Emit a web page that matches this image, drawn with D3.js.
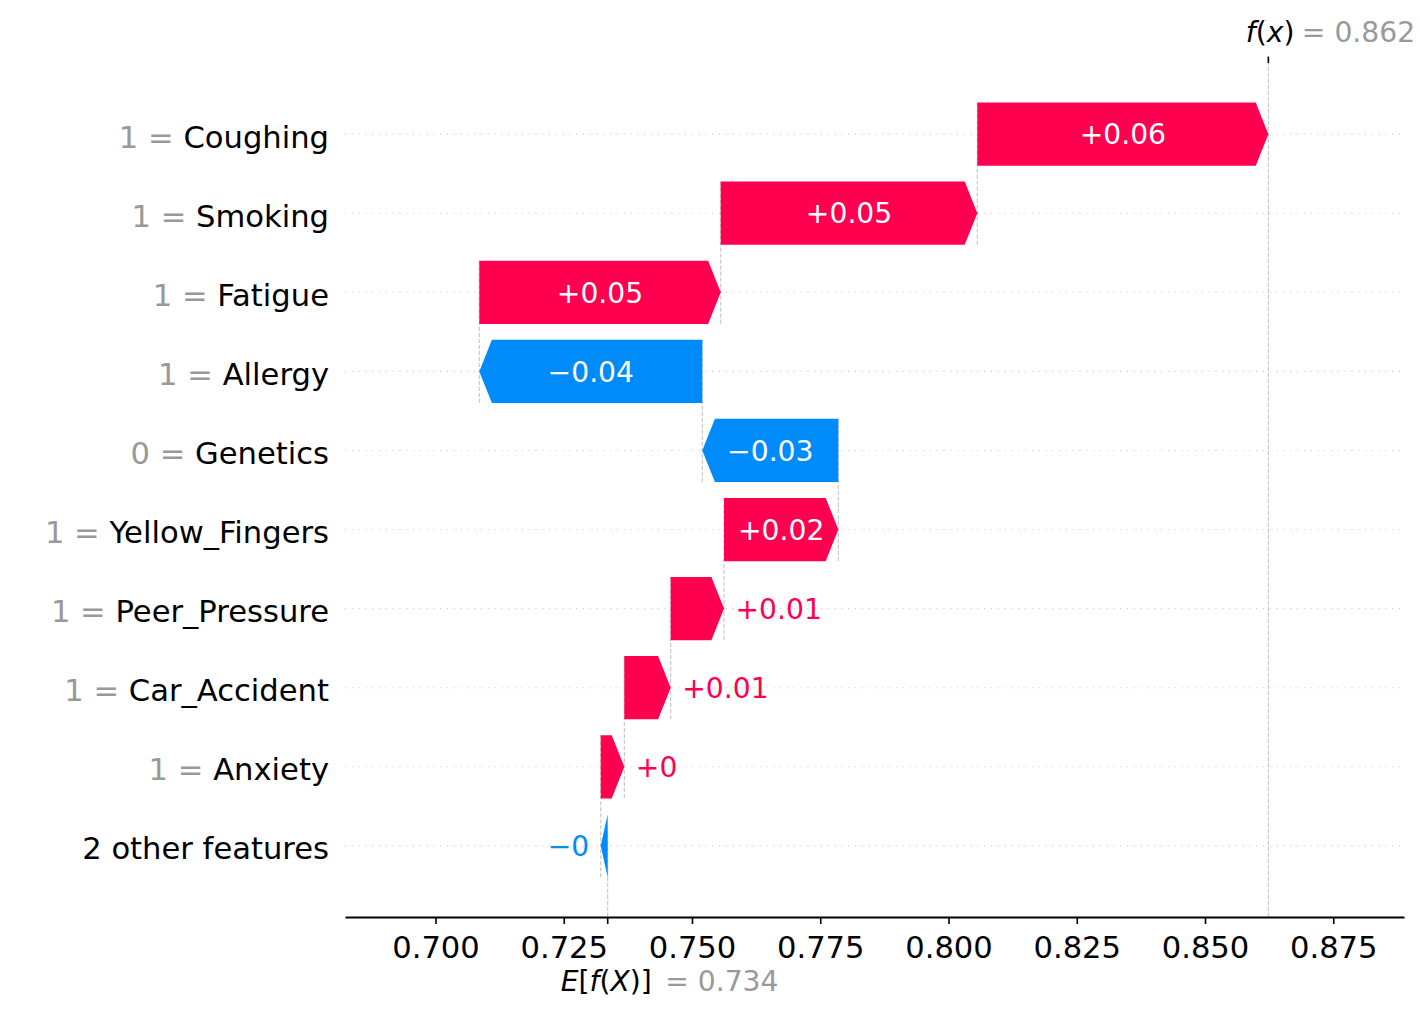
<!DOCTYPE html>
<meta charset="utf-8">
<script src="https://d3js.org/d3.v7.min.js"></script>
<style>
  body { margin: 0; background: #fff; }
  text { font-family: "DejaVu Sans", sans-serif; }
</style>
<div id="chart"></div>
<script>

// rows, top to bottom
var features = ["Coughing", "Smoking", "Fatigue", "Allergy", "Genetics", "Yellow_Fingers",
                "Peer_Pressure", "Car_Accident", "Anxiety", "2 other features"];
var featureValues = ["1", "1", "1", "1", "0", "1", "1", "1", "1", ""];
var shapValues = [0.05673, 0.05002, 0.04706, -0.04347, -0.02651, 0.02228,
                  0.01039, 0.00904, 0.00460, -0.00136];
var baseValue = 0.73357;
var xTicks = [0.700, 0.725, 0.750, 0.775, 0.800, 0.825, 0.850, 0.875];

var red = "#ff0051", blue = "#008bfb";
var n = features.length;
var fx = baseValue + d3.sum(shapValues);

var svg = d3.select("#chart").append("svg")
    .attr("width", 1420)
    .attr("height", 1028);

var x = d3.scaleLinear().domain([0.68236, 0.88879]).range([345, 1404]);
var y = d3.scaleLinear().domain([-0.9, n - 0.1]).range([917, 63]);

// shap style number format: strip trailing zeros, unicode minus
function fmt(v) {
  var s = d3.format("+.2f")(v).replace(/\.?0+$/, "");
  if (s[0] == "-" || s[0] == "\u2212") s = "\u2212" + s.slice(1);
  return s;
}

// horizontal dotted row lines
svg.append("g").selectAll("line")
  .data(d3.range(n))
  .enter().append("line")
    .attr("x1", x.range()[0]).attr("x2", x.range()[1])
    .attr("y1", function(r) { return y(r); })
    .attr("y2", function(r) { return y(r); })
    .style("stroke", "#cccccc")
    .style("stroke-width", 1.1)
    .style("stroke-dasharray", "1.1,5.7");

// where each bar starts (walk down from f(x))
var rows = [];
var loc = fx;
features.forEach(function(f, i) {
  loc -= shapValues[i];
  rows.push({ name: f, fval: featureValues[i], v: shapValues[i], start: loc, r: n - 1 - i });
});

// dashed connectors
var dash = svg.append("g")
    .style("stroke", "#c4c4c4")
    .style("stroke-width", 1.1)
    .style("stroke-dasharray", "4.2,1.8");
rows.slice(0, n - 1).forEach(function(d) {
  dash.append("line")
    .attr("x1", x(d.start)).attr("x2", x(d.start))
    .attr("y1", y(d.r + 0.4)).attr("y2", y(d.r - 1.4));
});
dash.append("line")
  .attr("x1", x(baseValue)).attr("x2", x(baseValue))
  .attr("y1", y(-0.9)).attr("y2", y(-0.9 + (n + 0.8) / n));
dash.append("line")
  .attr("x1", x(fx)).attr("x2", x(fx))
  .attr("y1", y(-0.9)).attr("y2", y(n - 0.1));

// arrow bars
var headLen = 12.6;
function arrowPath(d) {
  var x0 = x(d.start), x1 = x(d.start + d.v);
  var dist = Math.abs(x1 - x0), sgn = d.v >= 0 ? 1 : -1;
  var head = Math.min(dist, headLen), body = dist - head;
  var yt = y(d.r + 0.4), yb = y(d.r - 0.4), yc = y(d.r);
  return "M" + x0 + "," + yt +
         "L" + (x0 + sgn * body) + "," + yt +
         "L" + x1 + "," + yc +
         "L" + (x0 + sgn * body) + "," + yb +
         "L" + x0 + "," + yb + "Z";
}

svg.append("g").selectAll("path")
  .data(rows)
  .enter().append("path")
    .attr("d", arrowPath)
    .style("fill", function(d) { return d.v >= 0 ? red : blue; });

// value labels, inside if they fit, else outside in bar colour
var vl = svg.append("g").style("font-size", "28.2px");
rows.forEach(function(d) {
  var x0 = x(d.start), x1 = x(d.start + d.v);
  var t = vl.append("text")
    .attr("x", (x0 + x1) / 2)
    .attr("y", y(d.r) + 10.2)
    .attr("text-anchor", "middle")
    .style("fill", "white")
    .text(fmt(d.v));
  if (t.node().getComputedTextLength() > Math.abs(x1 - x0)) {
    if (d.v >= 0) {
      t.attr("x", x1 + 11.5).attr("text-anchor", "start").style("fill", red);
    } else {
      t.attr("x", x1 - 11.5).attr("text-anchor", "end").style("fill", blue);
    }
  }
});

// y labels
var yl = svg.append("g").style("font-size", "30.6px");
rows.forEach(function(d) {
  var t = yl.append("text")
    .attr("x", 329)
    .attr("y", y(d.r) + 13.4)
    .attr("text-anchor", "end");
  if (d.fval !== "") {
    t.append("tspan").style("fill", "#999999").text(d.fval + " = ");
  }
  t.append("tspan").style("fill", "black").text(d.name);
});

// bottom axis
var xAxis = svg.append("g")
    .attr("transform", "translate(0,917)")
    .call(d3.axisBottom(x).tickValues(xTicks).tickFormat(d3.format(".3f"))
          .tickSize(7).tickSizeOuter(0));
xAxis.select(".domain").style("stroke-width", 1.8);
xAxis.selectAll(".tick line").style("stroke-width", 1.6);
xAxis.selectAll(".tick text")
    .attr("y", 41).attr("dy", null)
    .style("font-size", "30.6px")
    .style("font-family", "DejaVu Sans, sans-serif");

// E[f(X)] tick and label
svg.append("line")
  .attr("x1", x(baseValue)).attr("x2", x(baseValue))
  .attr("y1", 917).attr("y2", 924)
  .style("stroke", "black").style("stroke-width", 1.6);
var eLab = svg.append("text")
  .attr("x", x(baseValue) - 47).attr("y", 991)
  .style("font-size", "28.2px");
eLab.append("tspan").style("font-style", "italic").text("E");
eLab.append("tspan").text("[");
eLab.append("tspan").style("font-style", "italic").text("f");
eLab.append("tspan").text("(");
eLab.append("tspan").style("font-style", "italic").text("X");
eLab.append("tspan").text(")]");
svg.append("text")
  .attr("x", x(baseValue) + 57.5).attr("y", 991)
  .style("font-size", "28.2px")
  .style("fill", "#999999")
  .text("= " + d3.format(".3f")(baseValue));

// f(x) tick and label on top
svg.append("line")
  .attr("x1", x(fx)).attr("x2", x(fx))
  .attr("y1", 56.5).attr("y2", 63)
  .style("stroke", "black").style("stroke-width", 1.6);
var fLab = svg.append("text")
  .attr("x", x(fx) - 22.5).attr("y", 42)
  .style("font-size", "28.2px");
fLab.append("tspan").style("font-style", "italic").text("f");
fLab.append("tspan").text("(");
fLab.append("tspan").style("font-style", "italic").text("x");
fLab.append("tspan").text(")");
svg.append("text")
  .attr("x", x(fx) + 33.5).attr("y", 42)
  .style("font-size", "28.2px")
  .style("fill", "#999999")
  .text("= " + d3.format(".3f")(fx));

</script>
